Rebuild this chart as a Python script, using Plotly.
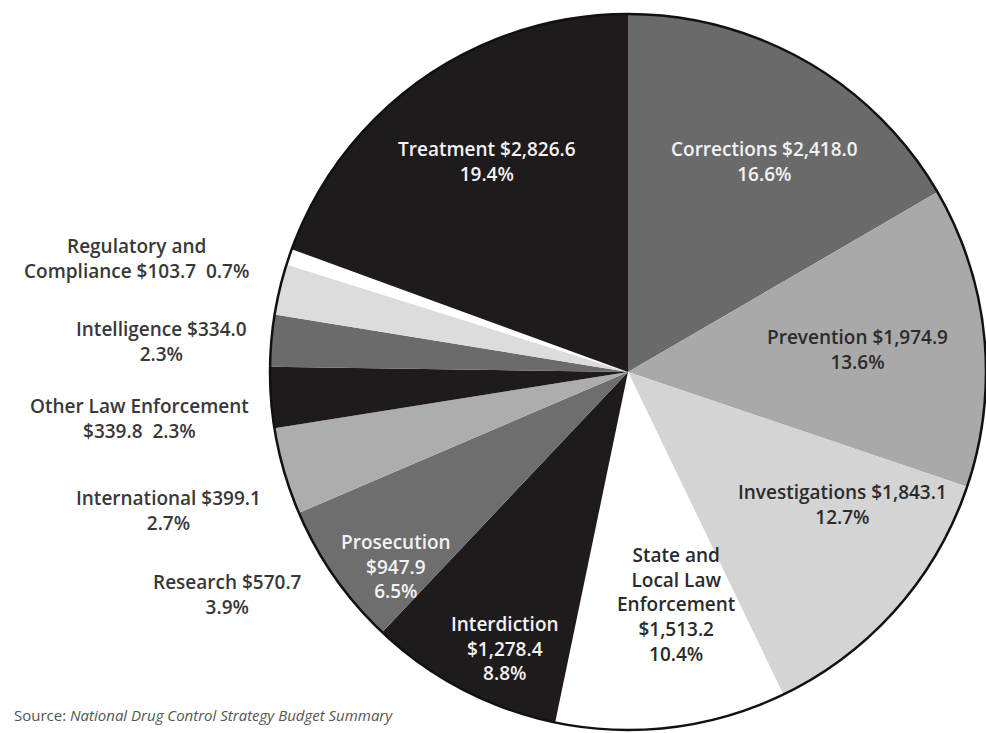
import plotly.graph_objects as go

# Data (clockwise from 12 o'clock)
names = ["Corrections", "Prevention", "Investigations", "State and Local Law Enforcement",
         "Interdiction", "Prosecution", "Research", "International",
         "Other Law Enforcement", "Intelligence", "Regulatory and Compliance", "Treatment"]
values = [2418.0, 1974.9, 1843.1, 1513.2, 1278.4, 947.9, 570.7, 399.1, 339.8, 334.0, 103.7, 2826.6]
pcts = [16.6, 13.6, 12.7, 10.4, 8.8, 6.5, 3.9, 2.7, 2.3, 2.3, 0.7, 19.4]

colors = ["#6a6a6a", "#a9a9a9", "#d4d4d4", "#ffffff", "#1f1b1c", "#6e6e6e",
          "#adadad", "#1f1b1c", "#6b6b6b", "#dcdcdc", "#ffffff", "#1f1b1c"]

# label layout: line template, pixel center, text colour
W, H = 986, 733
label_fmt = [
    "{n} {v}<br>{p}",
    "{n} {v}<br>{p}",
    "{n} {v}<br>{p}",
    "State and<br>Local Law<br>Enforcement<br>{v}<br>{p}",
    "{n}<br>{v}<br>{p}",
    "{n}<br>{v}<br>{p}",
    "{n} {v}<br>{p}",
    "{n} {v}<br>{p}",
    "Other Law Enforcement<br>{v}  {p}",
    "{n} {v}<br>{p}",
    "Regulatory and<br>Compliance {v}  {p}",
    "{n} {v}<br>{p}",
]
label_pos = [(764, 162), (857, 349), (842, 504), (676, 604), (505, 648),
             (396, 566), (227, 594), (168, 510), (139, 418), (161, 341),
             (136, 259), (487, 161)]
label_col = ["#f2f2f2", "#2b2b2b", "#2b2b2b", "#2b2b2b", "#f2f2f2", "#f2f2f2",
             "#383838", "#383838", "#383838", "#383838", "#383838", "#f2f2f2"]

cx, cy, r = 628, 372, 358
dom_x = [(cx - r) / W, min(1.0, (cx + r) / W)]
dom_y = [1 - (cy + r) / H, 1 - (cy - r) / H]

fig = go.Figure(go.Pie(
    labels=names, values=values, sort=False, direction="clockwise", rotation=0,
    marker=dict(colors=colors, line=dict(width=0)),
    textinfo="none", hoverinfo="label+value+percent",
    domain=dict(x=dom_x, y=dom_y), showlegend=False,
))

fig.add_shape(type="circle", xref="paper", yref="paper",
              x0=dom_x[0], x1=dom_x[1], y0=dom_y[0], y1=dom_y[1],
              line=dict(color="#111111", width=2.5))

font_family = "Open Sans"
for n, v, p, fmt, (px, py), c in zip(names, values, pcts, label_fmt, label_pos, label_col):
    txt = fmt.format(n=n, v=f"${v:,.1f}", p=f"{p:.1f}%")
    fig.add_annotation(x=px / W, y=1 - py / H, xref="paper", yref="paper",
                       text=txt, showarrow=False, xanchor="center", yanchor="middle",
                       align="center",
                       font=dict(family=font_family, size=19, color=c, weight=600))

fig.add_annotation(x=12 / W, y=1 - 715 / H, xref="paper", yref="paper",
                   text="Source: <i>National Drug Control Strategy Budget Summary</i>",
                   showarrow=False, xanchor="left", yanchor="middle",
                   font=dict(family=font_family, size=15, color="#555555"))

fig.update_layout(width=W, height=H, margin=dict(l=0, r=0, t=0, b=0),
                  paper_bgcolor="white", plot_bgcolor="white")

fig.write_html("out.html", config={"displayModeBar": False},
               post_script="document.body.style.margin='0';")
